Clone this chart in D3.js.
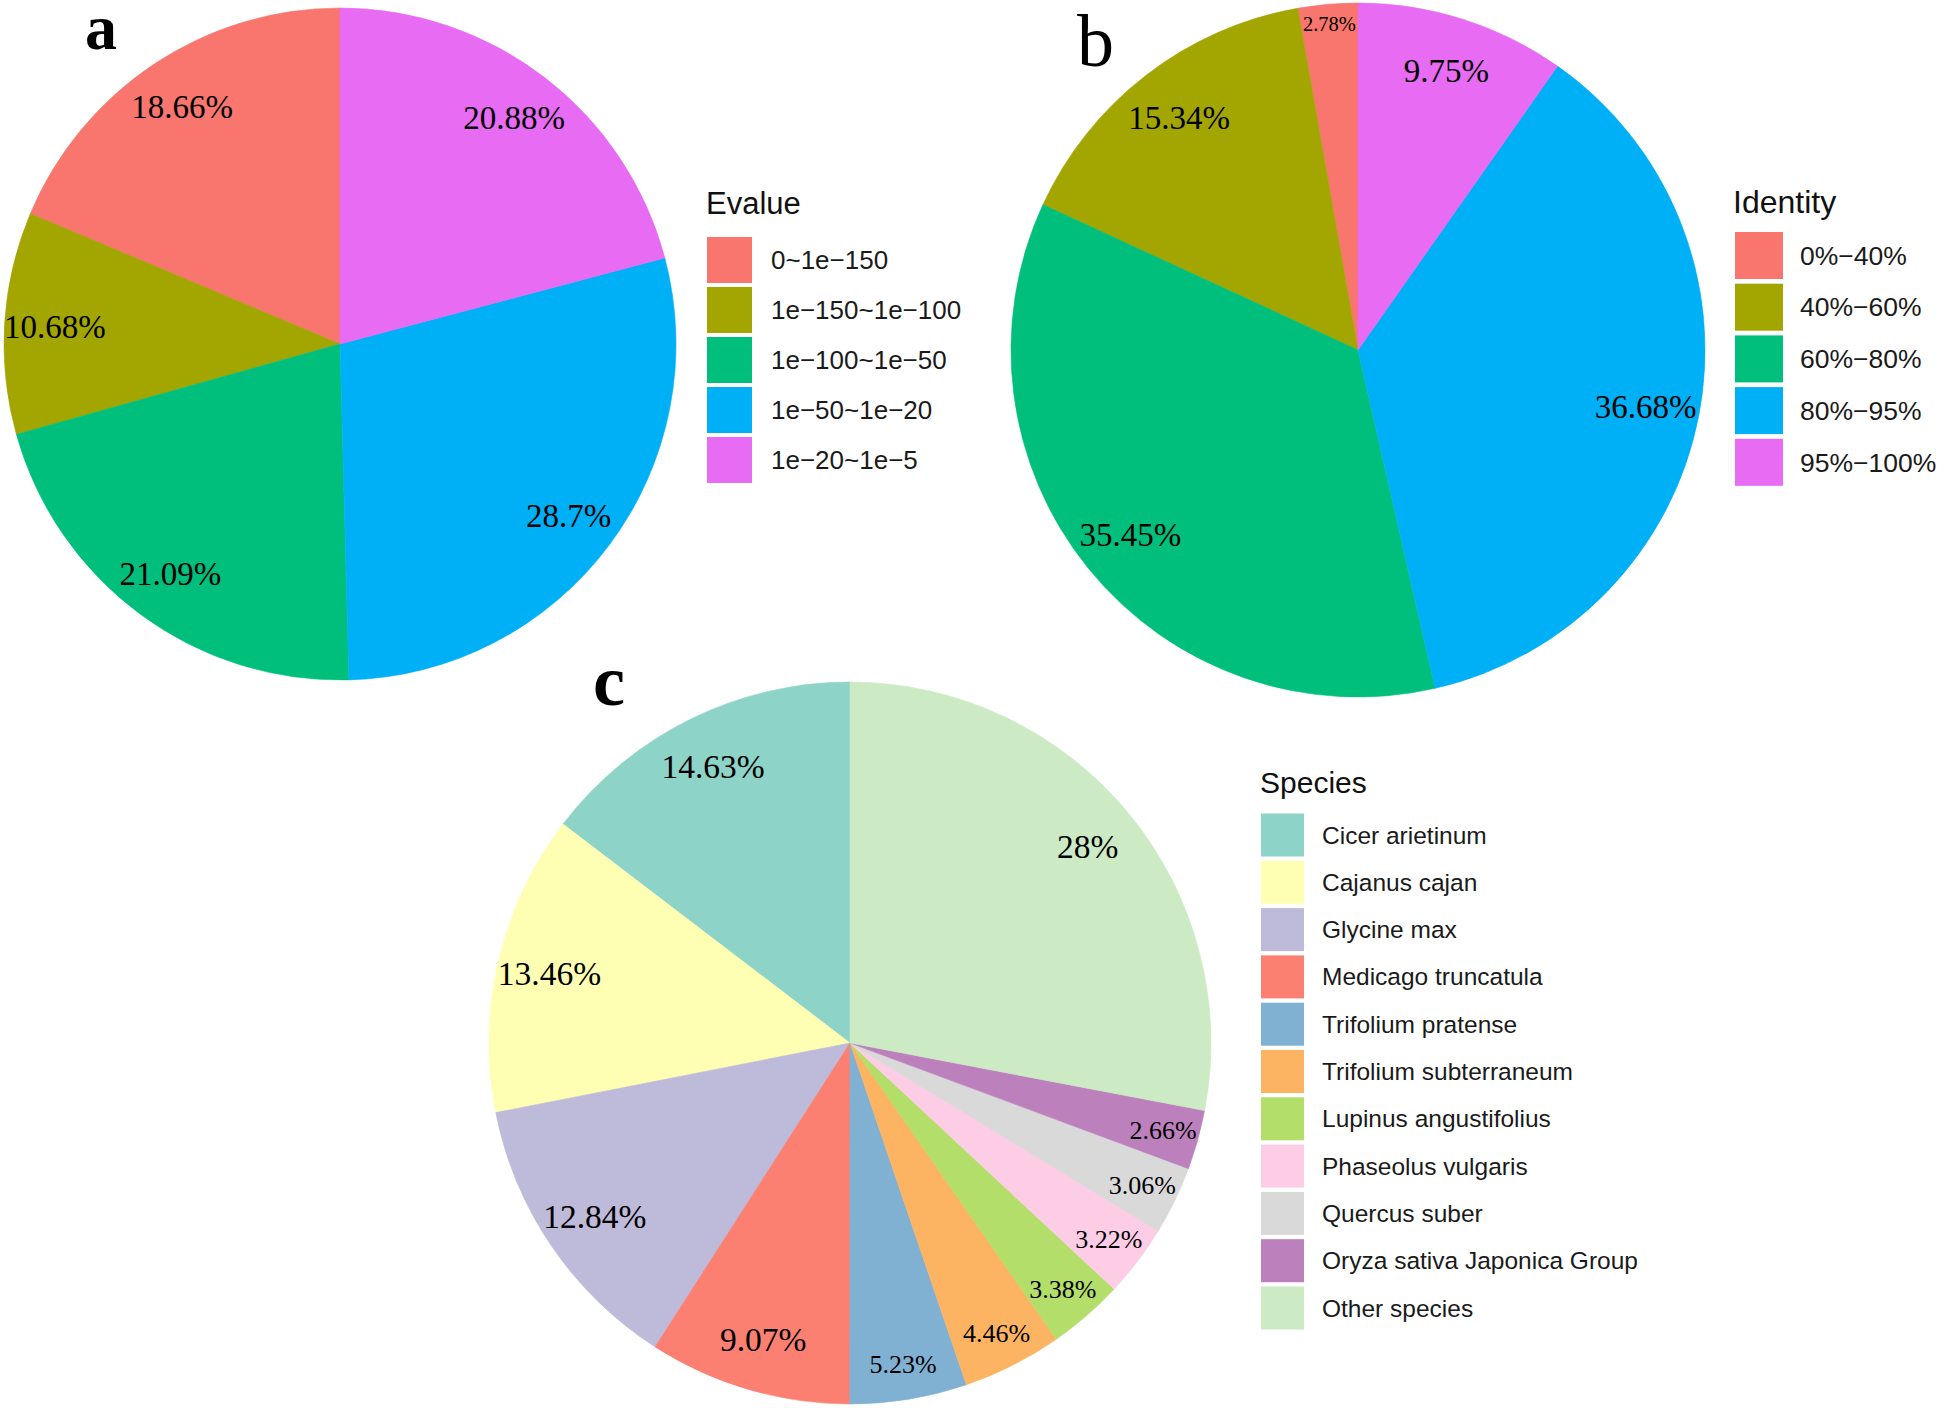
<!DOCTYPE html>
<html>
<head>
<meta charset="utf-8">
<script src="https://cdn.jsdelivr.net/npm/d3@7"></script>
<style>
  html, body { margin: 0; padding: 0; background: #ffffff; }
  svg { display: block; }
</style>
</head>
<body>
<svg id="chart" width="1946" height="1408"></svg>
<script>
// ---------------- DATA ----------------
const evalueCategories = ["0~1e\u2212150", "1e\u2212150~1e\u2212100", "1e\u2212100~1e\u221250", "1e\u221250~1e\u221220", "1e\u221220~1e\u22125"];
const evalueValues = [18.66, 10.68, 21.09, 28.7, 20.88];

const identityCategories = ["0%\u221240%", "40%\u221260%", "60%\u221280%", "80%\u221295%", "95%\u2212100%"];
const identityValues = [2.78, 15.34, 35.45, 36.68, 9.75];

const speciesCategories = ["Cicer arietinum", "Cajanus cajan", "Glycine max", "Medicago truncatula",
  "Trifolium pratense", "Trifolium subterraneum", "Lupinus angustifolius", "Phaseolus vulgaris",
  "Quercus suber", "Oryza sativa Japonica Group", "Other species"];
const speciesValues = [14.63, 13.46, 12.84, 9.07, 5.23, 4.46, 3.38, 3.22, 3.06, 2.66, 28];

// ---------------- STYLE / LAYOUT ----------------
const huePalette = ["#F8766D", "#A3A500", "#00BF7D", "#00B0F6", "#E76BF3"];
const set3Palette = ["#8DD3C7", "#FFFFB3", "#BEBADA", "#FB8072", "#80B1D3", "#FDB462",
  "#B3DE69", "#FCCDE5", "#D9D9D9", "#BC80BD", "#CCEBC5"];

const serif = "'Liberation Serif', 'Times New Roman', serif";
const sans = "'Liberation Sans', Arial, sans-serif";

const panels = [
  {
    letter: "a", letterX: 85, letterY: 49, letterSize: 64, letterWeight: "bold",
    cx: 340, cy: 344, r: 336,
    cats: evalueCategories, vals: evalueValues, colors: huePalette,
    labelR: 0.85, smallR: 0.85, smallSize: 33, bigSize: 33, smallThresh: 0,
    legend: { title: "Evalue", titleX: 706, titleY: 214, titleSize: 31,
      keyX: 707, keyW: 45, keyH: 46, keyTop: 237, pitch: 50, textX: 771, textSize: 26 }
  },
  {
    letter: "b", letterX: 1077, letterY: 66, letterSize: 74, letterWeight: "normal",
    cx: 1358, cy: 350, r: 347,
    cats: identityCategories, vals: identityValues, colors: huePalette,
    labelR: 0.845, smallR: 0.943, smallSize: 20.5, bigSize: 33, smallThresh: 5,
    legend: { title: "Identity", titleX: 1733, titleY: 213, titleSize: 32,
      keyX: 1735, keyW: 48, keyH: 47, keyTop: 232, pitch: 51.7, textX: 1800, textSize: 26.5 }
  },
  {
    letter: "c", letterX: 593, letterY: 705, letterSize: 72, letterWeight: "bold",
    cx: 850, cy: 1043, r: 361,
    cats: speciesCategories, vals: speciesValues, colors: set3Palette,
    labelR: 0.855, smallR: 0.9, smallSize: 26, bigSize: 33.5, smallThresh: 6,
    legend: { title: "Species", titleX: 1260, titleY: 793, titleSize: 30,
      keyX: 1261, keyW: 43, keyH: 43, keyTop: 813.5, pitch: 47.3, textX: 1322, textSize: 24.5 }
  }
];

const svg = d3.select("#chart");

panels.forEach(p => {
  const color = d3.scaleOrdinal().domain(p.cats).range(p.colors);
  const data = p.cats.map((c, i) => ({ cat: c, value: p.vals[i] }));

  const pie = d3.pie().sort(null).value(d => d.value)
    .startAngle(0).endAngle(-2 * Math.PI);
  const arcs = pie(data);
  const arc = d3.arc().innerRadius(0).outerRadius(p.r);

  const g = svg.append("g").attr("transform", `translate(${p.cx},${p.cy})`);

  g.selectAll("path.slice")
    .data(arcs)
    .join("path")
    .attr("class", "slice")
    .attr("d", arc)
    .attr("fill", d => color(d.data.cat))
    .attr("stroke", d => color(d.data.cat))
    .attr("stroke-width", 0.6);

  g.selectAll("text.pct")
    .data(arcs)
    .join("text")
    .attr("class", "pct")
    .each(function(d) {
      const small = d.data.value < p.smallThresh;
      const rr = p.r * (small ? p.smallR : p.labelR);
      const mid = (d.startAngle + d.endAngle) / 2;
      d3.select(this)
        .attr("x", rr * Math.sin(mid))
        .attr("y", -rr * Math.cos(mid))
        .attr("font-size", small ? p.smallSize : p.bigSize);
    })
    .attr("text-anchor", "middle")
    .attr("dy", "0.35em")
    .attr("font-family", serif)
    .attr("fill", "#000")
    .text(d => d.data.value + "%");

  // panel letter
  svg.append("text")
    .attr("x", p.letterX).attr("y", p.letterY)
    .attr("font-family", serif)
    .attr("font-weight", p.letterWeight)
    .attr("font-size", p.letterSize)
    .attr("fill", "#000")
    .text(p.letter);

  // legend
  const L = p.legend;
  const lg = svg.append("g");
  lg.append("text")
    .attr("x", L.titleX).attr("y", L.titleY)
    .attr("font-family", sans)
    .attr("font-size", L.titleSize)
    .attr("fill", "#111")
    .text(L.title);

  const items = lg.selectAll("g.item")
    .data(p.cats)
    .join("g")
    .attr("class", "item")
    .attr("transform", (d, i) => `translate(0,${L.keyTop + i * L.pitch})`);

  items.append("rect")
    .attr("x", L.keyX).attr("y", 0)
    .attr("width", L.keyW).attr("height", L.keyH)
    .attr("fill", d => color(d));

  items.append("text")
    .attr("x", L.textX).attr("y", L.keyH / 2)
    .attr("dy", "0.35em")
    .attr("font-family", sans)
    .attr("font-size", L.textSize)
    .attr("fill", "#1a1a1a")
    .text(d => d);
});
</script>
</body>
</html>
